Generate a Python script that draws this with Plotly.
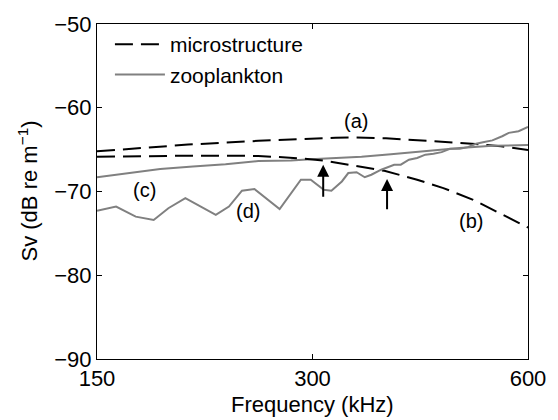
import numpy as np
import plotly.graph_objects as go

# (a) microstructure curve
freq_a = [150, 175, 201, 252, 292, 323, 340, 380, 433, 467, 507, 550, 594, 600]
sv_a = [-65.2, -64.8, -64.4, -63.95, -63.7, -63.58, -63.55, -63.65, -63.95, -64.1, -64.34, -64.6, -65.0, -65.05]

# (b) microstructure curve
freq_b = [150, 204, 252, 292, 313, 344, 378, 420, 457, 502, 582, 600]
sv_b = [-65.85, -65.72, -65.75, -66.07, -66.35, -66.94, -67.53, -68.59, -69.59, -70.96, -73.72, -74.3]

# (c) zooplankton curve (smooth)
freq_c = [150, 165.4, 183.8, 204.2, 226.8, 252.1, 280, 298.3, 315.7, 351.2, 386.1, 433.4, 481.7, 535, 600]
sv_c = [-68.3, -67.8, -67.3, -67.0, -66.75, -66.35, -66.3, -66.15, -66.05, -65.85, -65.55, -65.15, -64.8, -64.55, -64.45]

# (d) zooplankton curve (measured, jagged)
freq_d = [150, 159.5, 169.9, 180, 188.7, 199.3, 219.8, 229.3, 239.1, 248.9, 269.9, 289, 298.3,
          311.1, 318.8, 329.7, 336.6, 345.7, 354.9, 362.5, 374.2, 384, 390.1, 398.5, 409.1, 420,
          431.3, 442.7, 454.5, 466.7, 481.7, 494.4, 507.6, 521.2, 535, 552.2, 564, 582.1, 600]
sv_d = [-72.3, -71.8, -73.0, -73.4, -72.0, -70.8, -72.8, -71.8, -69.9, -69.7, -72.1, -68.6, -68.6,
        -69.8, -69.9, -68.8, -67.8, -67.7, -68.3, -68.0, -67.4, -67.0, -66.8, -66.8, -66.2, -66.0,
        -65.6, -65.5, -65.3, -64.9, -64.9, -64.7, -64.3, -64.1, -63.9, -63.4, -63.0, -62.8, -62.3]

# curve labels
label_text = ["(a)", "(b)", "(c)", "(d)"]
label_freq = [345, 500, 175, 244]
label_sv = [-61.6, -73.5, -69.86, -72.34]

# arrows: frequency, tip value, tail value
arrow_freq = [310.5, 381.3]
arrow_tip = [-66.8, -68.5]
arrow_tail = [-70.8, -72.3]

x_ticks = [150, 300, 600]
y_ticks = [-90, -80, -70, -60, -50]

FONT = "Liberation Sans, Arial, Helvetica, sans-serif"
DASH = "18px,8px"
GRAY = "#808080"

fig = go.Figure()
fig.add_trace(go.Scatter(x=freq_a, y=sv_a, mode="lines", name="microstructure",
                         line=dict(color="black", width=2, dash=DASH)))
fig.add_trace(go.Scatter(x=freq_c, y=sv_c, mode="lines", name="zooplankton",
                         line=dict(color=GRAY, width=2)))
fig.add_trace(go.Scatter(x=freq_b, y=sv_b, mode="lines", showlegend=False,
                         line=dict(color="black", width=2, dash=DASH)))
fig.add_trace(go.Scatter(x=freq_d, y=sv_d, mode="lines", showlegend=False,
                         line=dict(color=GRAY, width=2)))

for t, f, v in zip(label_text, label_freq, label_sv):
    fig.add_annotation(x=np.log10(f), y=v, text=t, showarrow=False,
                       font=dict(size=20, color="black", family=FONT))

for f, tip, tail in zip(arrow_freq, arrow_tip, arrow_tail):
    fig.add_annotation(x=np.log10(f), y=tip, ax=np.log10(f), ay=tail,
                       xref="x", yref="y", axref="x", ayref="y",
                       text="", showarrow=True, arrowhead=2, arrowsize=1.2,
                       arrowwidth=2, arrowcolor="black")

# axis titles as annotations for exact placement
fig.add_annotation(x=0.5, y=0, xref="paper", yref="paper", yshift=-45,
                   xanchor="center", yanchor="middle", showarrow=False,
                   text="Frequency (kHz)", font=dict(size=22, color="black", family=FONT))
fig.add_annotation(x=0, y=0.5, xref="paper", yref="paper", xshift=-70,
                   xanchor="center", yanchor="middle", showarrow=False, textangle=-90,
                   text="Sv (dB re m<sup>−1</sup>)", font=dict(size=22, color="black", family=FONT))

axis_common = dict(showline=True, linecolor="black", linewidth=1, mirror="ticks",
                   ticks="inside", ticklen=5, tickcolor="black", showgrid=False,
                   zeroline=False, tickfont=dict(size=22, color="black", family=FONT))

fig.update_layout(
    width=558, height=420,
    margin=dict(l=97, r=22, t=21, b=61),
    paper_bgcolor="white", plot_bgcolor="white",
    font=dict(family=FONT, color="black"),
    showlegend=True,
    legend=dict(x=0.03, y=1.0, xanchor="left", yanchor="top", itemwidth=50,
                bgcolor="rgba(0,0,0,0)", font=dict(size=21, color="black", family=FONT),
                tracegroupgap=0),
    xaxis=dict(type="log", range=[np.log10(150), np.log10(600)],
               tickvals=x_ticks, ticktext=[str(v) for v in x_ticks],
               **axis_common),
    yaxis=dict(range=[-90, -50], tickvals=y_ticks, **axis_common),
)

fig.write_html("out.html", config={"displayModeBar": False},
               post_script="document.body.style.margin='0';")
